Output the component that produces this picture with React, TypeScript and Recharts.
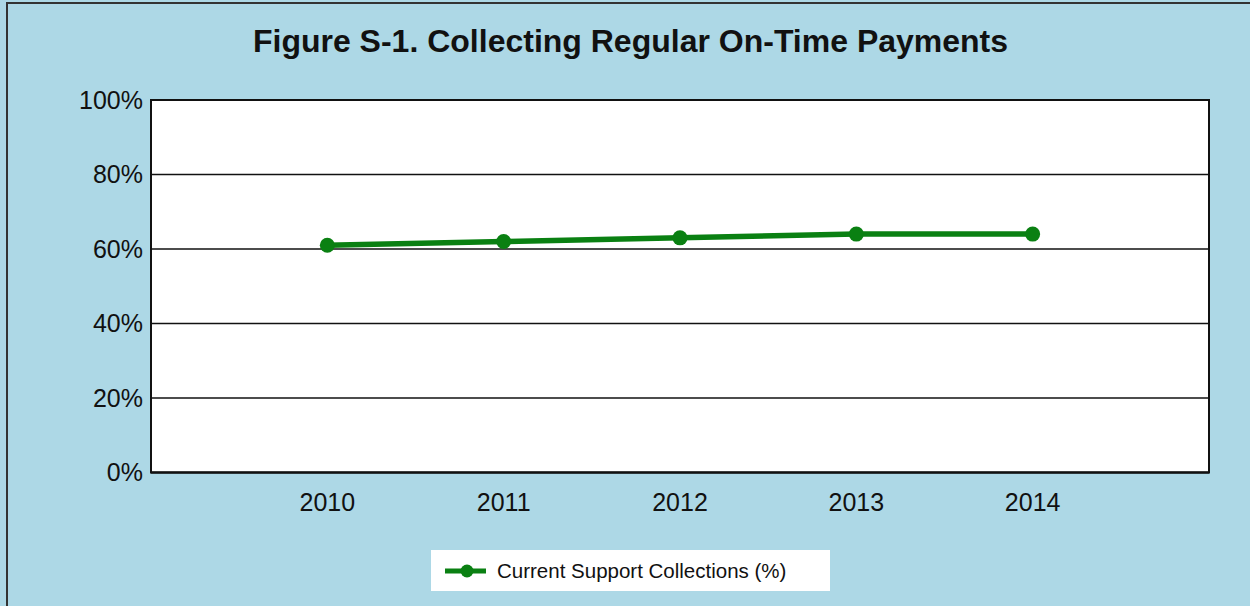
import React from 'react';
import { LineChart, Line, XAxis, YAxis, CartesianGrid, ReferenceArea } from 'recharts';

const years = [2010, 2011, 2012, 2013, 2014];
const collections = [61, 62, 63, 64, 64];
const yTicks = [0, 20, 40, 60, 80, 100];
const title = 'Figure S-1. Collecting Regular On-Time Payments';
const seriesName = 'Current Support Collections (%)';

const data = years.map((y, i) => ({ year: y, value: collections[i] }));

const GREEN = '#0a8012';
const FONT = 'Arial, "Liberation Sans", sans-serif';

export default function App() {
  return (
    <div style={{ position: 'absolute', left: 0, top: 0, width: 1250, height: 606, background: '#add8e6', overflow: 'hidden', fontFamily: FONT }}>
      <div style={{ position: 'absolute', left: 6, top: 2, width: 1260, height: 620, border: '2px solid #333', boxSizing: 'border-box' }} />
      <div style={{ position: 'absolute', left: 0, top: 23, width: 1261, textAlign: 'center', fontSize: 32, lineHeight: '36px', fontWeight: 'bold', color: '#111', whiteSpace: 'nowrap' }}>
        {title}
      </div>
      <div style={{ position: 'absolute', left: 0, top: 0 }}>
        <LineChart width={1250} height={606} data={data} margin={{ top: 100, right: 41, bottom: 103.5, left: 0 }}>
          <CartesianGrid vertical={false} horizontal={true} stroke="#111" strokeWidth={1.5} fill="#fff" fillOpacity={1} />
          <XAxis
            dataKey="year"
            type="number"
            domain={[2009, 2015]}
            ticks={years}
            axisLine={{ stroke: '#111', strokeWidth: 2 }}
            tickLine={false}
            height={30}
            tickMargin={15}
            tick={{ fill: '#111', fontSize: 25, fontFamily: FONT }}
          />
          <YAxis
            domain={[0, 100]}
            ticks={yTicks}
            width={151}
            axisLine={{ stroke: '#111', strokeWidth: 2 }}
            tickLine={false}
            tickMargin={2}
            tickFormatter={(v: number) => `${v}%`}
            tick={{ fill: '#111', fontSize: 25, fontFamily: FONT }}
          />
          <ReferenceArea x1={2009} x2={2015} y1={0} y2={100} fill="none" stroke="#111" strokeWidth={2} />
          <Line
            dataKey="value"
            stroke={GREEN}
            strokeWidth={5.5}
            dot={{ r: 7.5, fill: GREEN, stroke: GREEN, strokeWidth: 0 }}
            isAnimationActive={false}
          />
        </LineChart>
      </div>
      <div style={{ position: 'absolute', left: 431, top: 550, width: 399, height: 41, background: '#fff' }}>
        <svg width={60} height={41} style={{ position: 'absolute', left: 0, top: 0 }}>
          <line x1={14} y1={21} x2={55} y2={21} stroke={GREEN} strokeWidth={5} />
          <circle cx={36} cy={21} r={6.5} fill={GREEN} />
        </svg>
        <span style={{ position: 'absolute', left: 66, top: 9, fontSize: 20.5, lineHeight: '24px', color: '#111', whiteSpace: 'nowrap' }}>{seriesName}</span>
      </div>
    </div>
  );
}
